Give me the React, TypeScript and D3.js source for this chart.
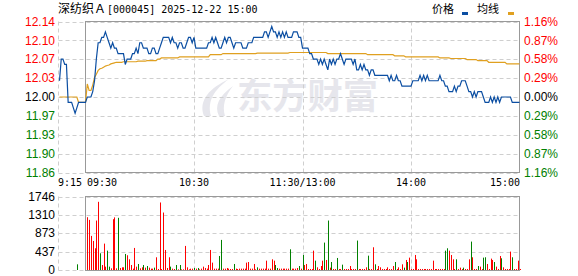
import React from "react";
import * as d3 from "d3";

const titleName = "深纺织Ａ";
const titleRest = "[000045] 2025-12-22 15:00";
const legendNames = ["价格", "均线"];
const prevClose = 12.0;
const maxPct = 0.0116;
const priceTickLabels = ["12.14", "12.10", "12.07", "12.03", "12.00", "11.97", "11.93", "11.90", "11.86"];
const pctTickLabels = ["1.16%", "0.87%", "0.58%", "0.29%", "0.00%", "0.29%", "0.58%", "0.87%", "1.16%"];
const volTicks = [1746, 1310, 873, 437, 0];
const timeLabels = ["9:15", "09:30", "10:30", "11:30/13:00", "14:00", "15:00"];
const timeLabelMinutes = [-15, 0, 60, 120, 180, 240];
const gridMinutes = [60, 120, 180];

// call auction 9:15 - 9:29
const prePrice = [12.03, 12.07, 12.07, 12.06, 12.06, 11.99, 11.99, 11.99, 11.98, 11.97, 11.98, 11.99, 11.99, 11.99, 11.99];
const preAvg = [12.0, 12.0, 12.0, 12.0, 12.0, 12.0, 12.0, 12.0, 12.0, 12.0, 12.0, 11.99, 11.99, 11.99, 11.99];
const preVolume = [0, 0, 0, 0, 0, 0, 0, 0, 0, 0, 135, 0, 0, 0, 0];
const preDir = "gggggggggggggg g";

// minutes 0..240 (9:30 .. 15:00)
const price = [
  11.99, 12.0, 12.0, 12.0, 12.01, 12.03, 12.07, 12.1, 12.1, 12.11,
  12.11, 12.12, 12.11, 12.1, 12.09, 12.1, 12.09, 12.09, 12.08, 12.08,
  12.08, 12.08, 12.06, 12.07, 12.07, 12.07, 12.08, 12.08, 12.09, 12.08,
  12.1, 12.1, 12.09, 12.09, 12.09, 12.08, 12.08, 12.09, 12.09, 12.08,
  12.08, 12.09, 12.1, 12.11, 12.11, 12.11, 12.11, 12.1, 12.11, 12.1,
  12.1, 12.09, 12.1, 12.1, 12.09, 12.09, 12.1, 12.11, 12.11, 12.1,
  12.11, 12.09, 12.09, 12.09, 12.09, 12.09, 12.09, 12.09, 12.1, 12.1,
  12.11, 12.1, 12.11, 12.1, 12.09, 12.09, 12.1, 12.11, 12.1, 12.11,
  12.11, 12.1, 12.09, 12.1, 12.1, 12.1, 12.1, 12.09, 12.09, 12.09,
  12.1, 12.1, 12.1, 12.11, 12.11, 12.11, 12.11, 12.11, 12.11, 12.12,
  12.12, 12.11, 12.12, 12.13, 12.12, 12.12, 12.11, 12.12, 12.11, 12.12,
  12.11, 12.12, 12.11, 12.11, 12.11, 12.12, 12.12, 12.12, 12.11, 12.11,
  12.09, 12.09, 12.09, 12.09, 12.08, 12.08, 12.07, 12.07, 12.07, 12.06,
  12.07, 12.06, 12.07, 12.06, 12.05, 12.07, 12.06, 12.07, 12.06, 12.07,
  12.07, 12.08, 12.07, 12.06, 12.07, 12.07, 12.07, 12.07, 12.06, 12.07,
  12.05, 12.05, 12.06, 12.05, 12.06, 12.05, 12.05, 12.04, 12.05, 12.05,
  12.04, 12.04, 12.04, 12.04, 12.04, 12.04, 12.04, 12.04, 12.03, 12.04,
  12.03, 12.03, 12.04, 12.03, 12.03, 12.02, 12.02, 12.02, 12.02, 12.02,
  12.02, 12.03, 12.03, 12.03, 12.03, 12.04, 12.03, 12.04, 12.03, 12.04,
  12.03, 12.03, 12.03, 12.03, 12.03, 12.03, 12.04, 12.03, 12.03, 12.02,
  12.02, 12.01, 12.01, 12.01, 12.02, 12.01, 12.02, 12.02, 12.03, 12.03,
  12.03, 12.02, 12.01, 12.01, 12.0, 12.01, 12.0, 12.01, 12.01, 12.01,
  12.0, 11.99, 11.99, 11.99, 12.0, 11.99, 12.0, 11.99, 12.0, 11.99,
  12.0, 12.0, 12.0, 12.0, 12.0, 12.0, 11.99, 11.99, 11.99, 11.99,
  11.99,
];

const avgPrice = [
  11.99, 12.024, 12.012, 12.012, 12.022, 12.036, 12.042, 12.049, 12.052, 12.053,
  12.055, 12.057, 12.058, 12.059, 12.061, 12.062, 12.063, 12.064, 12.064, 12.064,
  12.064, 12.065, 12.065, 12.065, 12.065, 12.065, 12.065, 12.065, 12.065, 12.066,
  12.066, 12.066, 12.066, 12.066, 12.067, 12.067, 12.067, 12.067, 12.067, 12.067,
  12.07, 12.07, 12.072, 12.072, 12.072, 12.072, 12.072, 12.072, 12.072, 12.072,
  12.072, 12.072, 12.074, 12.074, 12.074, 12.074, 12.074, 12.074, 12.074, 12.074,
  12.074, 12.074, 12.074, 12.074, 12.074, 12.074, 12.074, 12.074, 12.074, 12.078,
  12.078, 12.078, 12.078, 12.078, 12.078, 12.078, 12.08, 12.08, 12.08, 12.08,
  12.08, 12.08, 12.08, 12.08, 12.08, 12.08, 12.08, 12.08, 12.08, 12.08,
  12.08, 12.08, 12.08, 12.08, 12.08, 12.081, 12.081, 12.081, 12.081, 12.081,
  12.081, 12.081, 12.081, 12.081, 12.081, 12.081, 12.081, 12.081, 12.081, 12.081,
  12.081, 12.081, 12.081, 12.082, 12.082, 12.082, 12.082, 12.082, 12.082, 12.082,
  12.082, 12.082, 12.082, 12.082, 12.082, 12.082, 12.082, 12.082, 12.082, 12.082,
  12.082, 12.082, 12.082, 12.082, 12.08, 12.08, 12.08, 12.08, 12.08, 12.08,
  12.08, 12.08, 12.08, 12.08, 12.08, 12.08, 12.08, 12.08, 12.08, 12.08,
  12.08, 12.08, 12.08, 12.08, 12.08, 12.08, 12.078, 12.078, 12.078, 12.078,
  12.078, 12.078, 12.078, 12.078, 12.078, 12.078, 12.078, 12.078, 12.078, 12.078,
  12.078, 12.076, 12.076, 12.076, 12.076, 12.076, 12.076, 12.074, 12.074, 12.074,
  12.074, 12.074, 12.074, 12.074, 12.074, 12.074, 12.074, 12.074, 12.074, 12.074,
  12.074, 12.074, 12.074, 12.074, 12.074, 12.074, 12.072, 12.072, 12.072, 12.072,
  12.072, 12.072, 12.071, 12.071, 12.071, 12.071, 12.071, 12.071, 12.071, 12.071,
  12.071, 12.069, 12.069, 12.069, 12.069, 12.069, 12.069, 12.067, 12.067, 12.067,
  12.067, 12.067, 12.067, 12.064, 12.064, 12.064, 12.064, 12.064, 12.064, 12.064,
  12.064, 12.064, 12.064, 12.061, 12.061, 12.061, 12.061, 12.061, 12.061, 12.061,
  12.061,
];

const volume = [
  0, 1254, 1191, 810, 690, 516, 1175, 1620, 397, 119,
  627, 80, 460, 80, 40, 1207, 1250, 40, 1240, 48,
  64, 64, 381, 350, 254, 119, 32, 524, 80, 143,
  40, 64, 119, 56, 95, 56, 32, 32, 56, 302,
  24, 1604, 24, 1365, 476, 48, 302, 80, 32, 24,
  119, 16, 119, 16, 16, 572, 64, 16, 32, 32,
  48, 32, 48, 16, 32, 80, 48, 32, 119, 476,
  175, 32, 32, 32, 333, 715, 32, 32, 48, 32,
  24, 24, 143, 32, 24, 32, 32, 32, 32, 175,
  190, 32, 32, 143, 16, 64, 32, 32, 32, 32,
  222, 32, 32, 254, 222, 119, 48, 32, 32, 32,
  32, 32, 32, 492, 32, 32, 32, 48, 95, 32,
  357, 119, 143, 24, 24, 24, 460, 222, 64, 24,
  95, 222, 651, 238, 1175, 56, 190, 24, 24, 286,
  24, 24, 127, 24, 24, 24, 95, 24, 24, 24,
  699, 24, 24, 24, 24, 64, 341, 24, 24, 540,
  135, 24, 95, 64, 24, 24, 24, 64, 24, 24,
  95, 190, 24, 64, 24, 135, 56, 238, 190, 294,
  24, 24, 357, 254, 24, 24, 24, 24, 24, 24,
  24, 24, 222, 24, 24, 24, 24, 24, 24, 460,
  516, 460, 357, 254, 24, 254, 24, 56, 24, 56,
  24, 24, 254, 675, 302, 24, 24, 95, 80, 24,
  294, 302, 143, 24, 270, 238, 190, 80, 24, 333,
  278, 64, 24, 24, 24, 437, 302, 24, 24, 222,
  24,
];

const volDir = [
  "rrrrrrrrgr", "rrggrrrrgr", "rrgrrrrrrg", "rrgrgrrrgr", "rrrrrrrgrr",
  "grgrrrrrrr", "grgrrrrrrr", "rrrrggrrrr", "rrgrrrrrrr", "rrrrrgrrrr",
  "rrrrrggrrr", "rrrgrrrrgr", "grrrrrrgrr", "rrgrgrgrrg", "rrgrrrrrrr",
  "grrrrrgrrr", "grrrrrrrrr", "rgrrrrgrgr", "rrrrrrrrrr", "rrrrrrrrrg",
  "grrrrgrrrg", "rrrgrrrgrr", "ggrrrrgrrr", "grrrrrgrrr", "r",
].join("");

const W = 578;
const H = 276;
const L = 85.5, R = 519.5, PRE_L = 58.5;
const T = 21.5, B = 172.5;
const VT = 196.5, VB = 270.5;

const RED = "#ff0000";
const GREEN = "#008000";
const BLUE = "#0b4ea2";
const ORANGE = "#e0a020";
const GRID = "#cfcfcf";
const BORDER = "#999999";
const NUM_FONT = "'Liberation Sans', Arial, sans-serif";
const MONO_FONT = "'DejaVu Sans Mono', 'Liberation Mono', monospace";
const CJK_FONT = "'Noto Sans CJK SC', sans-serif";

export default function App() {
  const x = d3.scaleLinear().domain([0, 240]).range([L, R]);
  const xPre = d3.scaleLinear().domain([0, 15]).range([59.5, L]);
  const y = d3
    .scaleLinear()
    .domain([prevClose * (1 - maxPct), prevClose * (1 + maxPct)])
    .range([B, T]);
  const yV = d3.scaleLinear().domain([0, volTicks[0]]).range([VB - 0.5, VT]);
  const tickY = (i: number) => y(prevClose * (1 + maxPct * (1 - i / 4)));

  type P = { x: number; v: number };
  const pricePts: P[] = [
    ...prePrice.map((v, i) => ({ x: xPre(i), v })),
    ...price.map((v, i) => ({ x: x(i), v })),
  ];
  const avgPts: P[] = [
    ...preAvg.map((v, i) => ({ x: xPre(i), v })),
    ...avgPrice.map((v, i) => ({ x: x(i), v })),
  ];
  const line = d3
    .line<P>()
    .x((d) => d.x)
    .y((d) => y(d.v));

  const labelColor = (i: number) => (i < 4 ? RED : i === 4 ? "#000" : GREEN);

  const bars = [
    ...preVolume.map((v, i) => ({ x: xPre(i), v, c: preDir[i] })),
    ...volume.map((v, i) => ({ x: x(i), v, c: volDir[i] })),
  ].filter((b) => b.v > 0);

  return (
    <svg
      width={W}
      height={H}
      style={{ position: "absolute", left: 0, top: 0, background: "#fff" }}
    >
      {/* watermark */}
      <g fill="#e6e6ec">
        <path d="M229 79 C 210 88 198 100 204 116 L 211 116 C 207 101 214 90 229 79 Z" />
        <path d="M233 86 C 219 96 214 106 219 116 L 225 116 C 222 106 225 96 233 86 Z" />
        <text
          x={237}
          y={109}
          fontFamily={CJK_FONT}
          fontWeight={700}
          fontSize={35}
          textLength={141}
          lengthAdjust="spacingAndGlyphs"
        >
          东方财富
        </text>
      </g>

      {/* title */}
      <text x={58} y={13} fontSize={12} fill="#000">
        <tspan fontFamily={CJK_FONT}>{titleName}</tspan>
        <tspan fontFamily={MONO_FONT} fontSize={10} dx={1}>
          {titleRest}
        </tspan>
      </text>
      {/* legend */}
      <text x={432} y={13} fontSize={11} fontFamily={CJK_FONT} fill="#000">
        {legendNames[0]}
      </text>
      <rect x={462} y={12} width={6} height={3} fill={BLUE} />
      <text x={477} y={13} fontSize={11} fontFamily={CJK_FONT} fill="#000">
        {legendNames[1]}
      </text>
      <rect x={508} y={12} width={6} height={3} fill={ORANGE} />

      {/* price grid */}
      <g stroke={GRID} strokeDasharray="4,3" strokeWidth={1}>
        {priceTickLabels.map((_, i) => (
          <line key={i} x1={PRE_L} x2={R} y1={Math.round(tickY(i)) + 0.5} y2={Math.round(tickY(i)) + 0.5} />
        ))}
        <line x1={PRE_L} x2={PRE_L} y1={T} y2={B} />
        {gridMinutes.map((m) => (
          <line key={m} x1={Math.round(x(m)) + 0.5} x2={Math.round(x(m)) + 0.5} y1={T} y2={B} />
        ))}
      </g>
      <rect x={L} y={T} width={R - L} height={B - T} fill="none" stroke={BORDER} strokeWidth={1} />

      {/* average and price lines */}
      <path d={line(avgPts) || ""} fill="none" stroke={ORANGE} strokeWidth={1.2} />
      <path d={line(pricePts) || ""} fill="none" stroke={BLUE} strokeWidth={1.2} />

      {/* price labels */}
      {priceTickLabels.map((t, i) => (
        <text
          key={"l" + i}
          x={55}
          y={tickY(i) + 4.2}
          textAnchor="end"
          fontSize={12}
          fontFamily={NUM_FONT}
          fill={labelColor(i)}
        >
          {t}
        </text>
      ))}
      {pctTickLabels.map((t, i) => (
        <text
          key={"r" + i}
          x={524}
          y={tickY(i) + 4.2}
          fontSize={12}
          fontFamily={NUM_FONT}
          fill={labelColor(i)}
        >
          {t}
        </text>
      ))}

      {/* time labels */}
      {timeLabels.map((t, i) => {
        const m = timeLabelMinutes[i];
        let xx = m < 0 ? 58 : x(m);
        let anchor: "start" | "middle" | "end" = "middle";
        if (i === 0) anchor = "start";
        if (i === 1) {
          anchor = "start";
          xx = x(0) + 1.5;
        }
        if (i === timeLabels.length - 1) {
          anchor = "end";
          xx = x(m) + 0.5;
        }
        return (
          <text
            key={"t" + i}
            x={xx}
            y={186}
            textAnchor={anchor}
            fontSize={10}
            fontFamily={MONO_FONT}
            fill="#000"
          >
            {t}
          </text>
        );
      })}

      {/* volume grid */}
      <g stroke={GRID} strokeDasharray="4,3" strokeWidth={1}>
        {volTicks.map((v) => (
          <line key={v} x1={PRE_L} x2={R} y1={Math.round(yV(v)) + 0.5} y2={Math.round(yV(v)) + 0.5} />
        ))}
        <line x1={PRE_L} x2={PRE_L} y1={VT} y2={VB} />
        {gridMinutes.map((m) => (
          <line key={m} x1={Math.round(x(m)) + 0.5} x2={Math.round(x(m)) + 0.5} y1={VT} y2={VB} />
        ))}
      </g>

      {/* volume bars */}
      {bars.map((b, i) => {
        const top = yV(b.v);
        return (
          <rect
            key={"b" + i}
            x={Math.round(b.x)}
            y={top}
            width={1}
            height={Math.max(VB - 0.5 - top, 0.8)}
            fill={b.c === "g" ? GREEN : RED}
          />
        );
      })}
      <rect x={L} y={VT} width={R - L} height={VB - VT} fill="none" stroke={BORDER} strokeWidth={1} />

      {/* volume labels */}
      {volTicks.map((v) => (
        <text
          key={"v" + v}
          x={55}
          y={yV(v) + 4.2}
          textAnchor="end"
          fontSize={12}
          fontFamily={NUM_FONT}
          fill="#000"
        >
          {v}
        </text>
      ))}
    </svg>
  );
}
